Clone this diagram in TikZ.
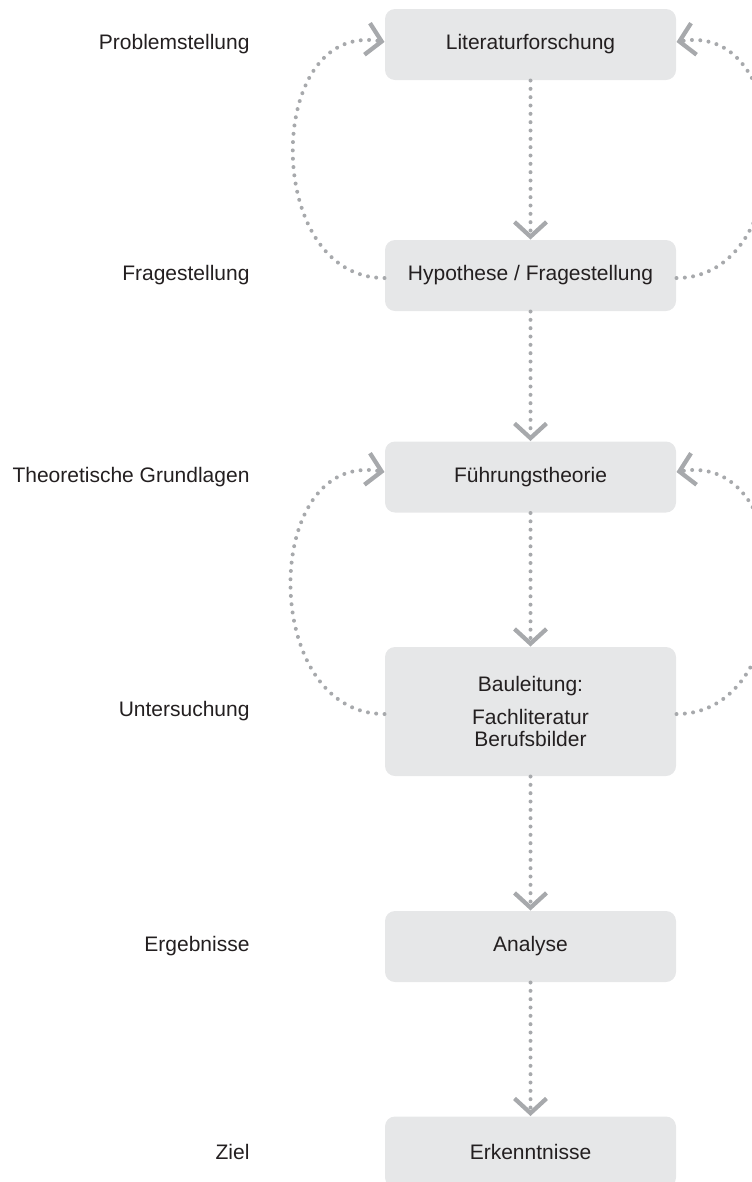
\documentclass[tikz,border=0pt]{standalone}
\usepackage{fontspec}
\setmainfont{Liberation Sans}
\usetikzlibrary{arrows.meta}

\definecolor{boxgray}{RGB}{230,231,232}
\definecolor{flowgray}{RGB}{167,169,172}
\definecolor{inkgray}{RGB}{35,31,32}

\tikzset{every picture/.style={line width=0.75pt},
  stepbox/.style={fill=boxgray, rounded corners=7.5pt, minimum width=218.25pt, minimum height=53.25pt, inner sep=0pt, align=center, text=inkgray, font=\fontsize{15.75}{16.5}\selectfont},
  sidelabel/.style={anchor=east, inner sep=0pt, text=inkgray, font=\fontsize{15.75}{16.5}\selectfont},
  flow/.style={draw=flowgray, line width=3pt, line cap=round, dash pattern=on 0pt off 6.25pt, -{Straight Barb[length=11pt,width=24pt,line width=3.2pt]}}
}

\begin{document}
\begin{tikzpicture}[x=0.75pt,y=0.75pt,yscale=-1,xscale=1]
\useasboundingbox (0,0) rectangle (752,1182);

%Shape: Rounded Rect
\node[stepbox] (lit) at (530.5,44.5) {Literaturforschung};
\node[stepbox] (hyp) at (530.5,275.5) {Hypothese / Fragestellung};
\node[stepbox] (fuehr) at (530.5,477) {Führungstheorie};
\node[stepbox, minimum height=96.75pt] (bau) at (530.5,711.5) {Bauleitung:\\[8pt]Fachliteratur\\Berufsbilder};
\node[stepbox] (ana) at (530.5,946.5) {Analyse};
\node[stepbox] (erk) at (530.5,1152) {Erkenntnisse};

% Text Node
\node[sidelabel] (problem) at (250,44.5) {Problemstellung};
\node[sidelabel] (frage) at (250,275.5) {Fragestellung};
\node[sidelabel] (grundlagen) at (250,477) {Theoretische Grundlagen};
\node[sidelabel] (unters) at (250,711.5) {Untersuchung};
\node[sidelabel] (ergeb) at (250,946.5) {Ergebnisse};
\node[sidelabel] (ziel) at (250,1152) {Ziel};

%Straight Lines
\draw[flow] (lit) -- (hyp);
\draw[flow] (hyp) -- (fuehr);
\draw[flow] (fuehr) -- (bau);
\draw[flow] (bau) -- (ana);
\draw[flow] (ana) -- (erk);

%Curve Lines
\draw[flow] ([yshift=1.9pt]hyp.west) to[out=180,in=190,looseness=1.33] ([yshift=-1.9pt]lit.west);
\draw[flow] ([yshift=1.9pt]hyp.east) to[out=0,in=-10,looseness=1.33] ([yshift=-1.9pt]lit.east);
\draw[flow] ([yshift=1.9pt]bau.west) to[out=180,in=190,looseness=1.33] ([yshift=-3.75pt]fuehr.west);
\draw[flow] ([yshift=1.9pt]bau.east) to[out=0,in=-10,looseness=1.33] ([yshift=-3.75pt]fuehr.east);

\end{tikzpicture}
\end{document}
